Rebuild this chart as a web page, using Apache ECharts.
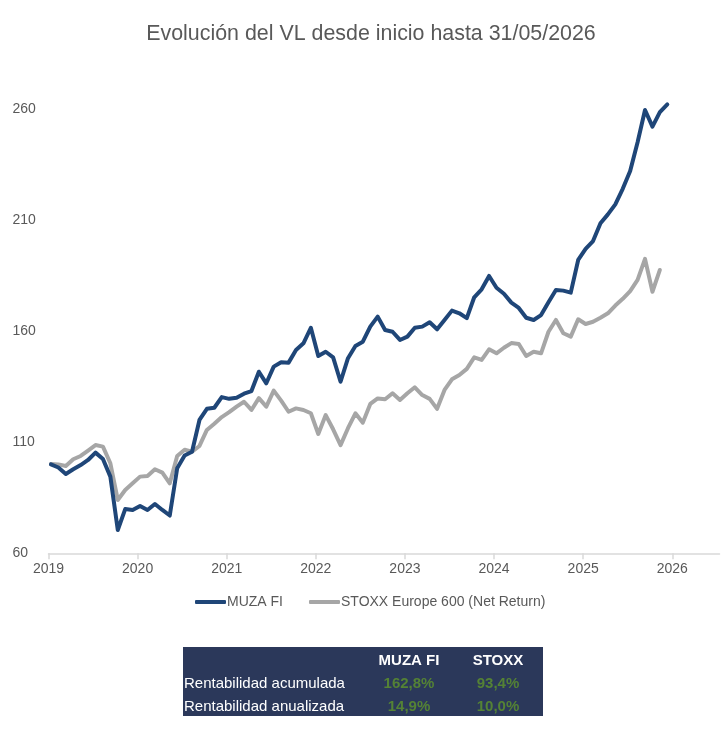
<!DOCTYPE html>
<html><head><meta charset="utf-8">
<script src="https://cdn.jsdelivr.net/npm/echarts@6/dist/echarts.min.js"></script>
<style>html,body{margin:0;padding:0;background:#fff}#c{width:728px;height:744px}</style>
</head><body><div id="c"></div>
<script>
var titleText = 'Evolución del VL desde inicio hasta 31/05/2026';
var seriesNames = ['MUZA FI', 'STOXX Europe 600 (Net Return)'];
var startYear = 2019;
var yTicks = [60, 110, 160, 210, 260];
var xTicks = [2019, 2020, 2021, 2022, 2023, 2024, 2025, 2026];
// Monthly values starting January 2019
var muza = [100, 98.6, 95.7, 97.8, 99.7, 102, 105.3, 102.4, 94.5, 70.5,
  79.9, 79.5, 81.3, 79.5, 82.2, 79.5, 77, 98.3, 104, 105.7,
  120, 125, 125.5, 130.3, 129.5, 130, 131.8, 133, 141.7, 136.5,
  144, 146, 145.8, 151.5, 154.5, 161.5, 148.8, 150.7, 148.2, 137.2,
  147.8, 153.3, 155.2, 162, 166.5, 160.5, 159.7, 156, 157.5, 161.5,
  162, 164, 160.8, 165, 169.2, 168, 165.8, 175.2, 178.8, 184.8,
  179.5, 176.8, 172.8, 170.4, 166, 165, 167.2, 173, 178.5, 178.2,
  177.3, 192, 197, 200.5, 208.5, 212.5, 217, 224, 232, 245,
  259.5, 252, 258.5, 262];
var stoxx = [100.2, 100, 99.3, 102.3, 103.8, 106.2, 108.7, 108, 100.5, 84,
  88.5, 91.5, 94.5, 94.8, 97.8, 96.3, 91.5, 103.8, 106.6, 105.7,
  108.3, 115.5, 118.3, 121.3, 123.5, 126, 128.2, 124.5, 129.8, 126,
  133.2, 128.7, 123.7, 125.2, 124.5, 123, 113.7, 122.2, 115.8, 108.7,
  116.3, 123, 118.8, 127.2, 129.7, 129.3, 132, 129, 132, 134.7,
  131.2, 129.5, 125, 133.5, 138.3, 140.2, 143, 148.2, 147, 151.8,
  150, 152.5, 154.6, 154.2, 148.8, 150.7, 150, 159.7, 165, 159,
  157.5, 165.3, 163.2, 164.2, 166, 168, 171.5, 174.5, 178, 183,
  192.5, 177.7, 187.5];
var tableHeader = ['', 'MUZA FI', 'STOXX'];
var tableRows = [
  ['Rentabilidad acumulada', '162,8%', '93,4%'],
  ['Rentabilidad anualizada', '14,9%', '10,0%']
];

function toPairs(arr) {
  return arr.map(function (v, i) { return [startYear + (i + 0.33) / 12, v]; });
}

var FONT = '"Liberation Sans", Arial, sans-serif';
var TXT = '#595959';
var BLUE = '#1f4678';
var GREY = '#a6a6a6';

var graphics = [];
var tx = 183, ty = 647, tw = 360, th = 69;
graphics.push({ type: 'rect', shape: { x: tx, y: ty, width: tw, height: th }, style: { fill: '#2b385a' } });
var colX = [184, 409, 498];
var rowY = [661, 684, 707];
for (var c = 1; c < 3; c++) {
  graphics.push({ type: 'text', x: colX[c], y: rowY[0], style: { text: tableHeader[c], fill: '#ffffff', font: 'bold 15px ' + FONT, textAlign: 'center', textVerticalAlign: 'middle' } });
}
tableRows.forEach(function (row, r) {
  graphics.push({ type: 'text', x: colX[0], y: rowY[r + 1], style: { text: row[0], fill: '#ffffff', font: '15px ' + FONT, textAlign: 'left', textVerticalAlign: 'middle' } });
  for (var c = 1; c < 3; c++) {
    graphics.push({ type: 'text', x: colX[c], y: rowY[r + 1], style: { text: row[c], fill: '#548235', font: 'bold 15px ' + FONT, textAlign: 'center', textVerticalAlign: 'middle' } });
  }
});

var chart = echarts.init(document.getElementById('c'), null, { renderer: 'canvas' });
chart.setOption({
  animation: false,
  backgroundColor: '#ffffff',
  textStyle: { fontFamily: FONT },
  title: {
    text: titleText, left: 366, top: 19, textAlign: 'center',
    textStyle: { fontSize: 21.4, fontWeight: 'normal', color: TXT, fontFamily: FONT }
  },
  legend: {
    top: 590, left: 190,
    itemWidth: 31, itemHeight: 4, itemGap: 26,
    icon: 'roundRect',
    textStyle: { fontSize: 14, color: TXT, fontFamily: FONT, padding: [0, 0, 0, -4] },
    data: seriesNames
  },
  grid: { left: 48.5, right: 8.5, top: 64.4, bottom: 190.7 },
  xAxis: {
    type: 'value', min: 2019, max: 2026.53, interval: 1,
    splitLine: { show: false },
    axisLine: { show: true, lineStyle: { color: '#d9d9d9', width: 1.5 } },
    axisTick: { show: true, length: 6, lineStyle: { color: '#d9d9d9', width: 1.5 } },
    axisLabel: {
      color: TXT, fontSize: 14, margin: 9, showMaxLabel: false,
      formatter: function (v) { return xTicks.indexOf(Math.round(v)) >= 0 ? String(Math.round(v)) : ''; }
    }
  },
  yAxis: {
    type: 'value', min: 60, max: 280, interval: 50,
    splitLine: { show: false },
    axisLine: { show: false },
    axisTick: { show: false },
    axisLabel: {
      color: TXT, fontSize: 14, align: 'left', margin: 36, showMaxLabel: false,
      formatter: function (v) { return yTicks.indexOf(v) >= 0 ? String(v) : ''; }
    }
  },
  series: [
    { name: seriesNames[0], type: 'line', data: toPairs(muza), showSymbol: false, symbol: 'none', z: 3,
      lineStyle: { color: BLUE, width: 4, cap: 'round', join: 'round' }, itemStyle: { color: BLUE } },
    { name: seriesNames[1], type: 'line', data: toPairs(stoxx), showSymbol: false, symbol: 'none', z: 2,
      lineStyle: { color: GREY, width: 4, cap: 'round', join: 'round' }, itemStyle: { color: GREY } }
  ],
  graphic: graphics
});
</script>
</body></html>
